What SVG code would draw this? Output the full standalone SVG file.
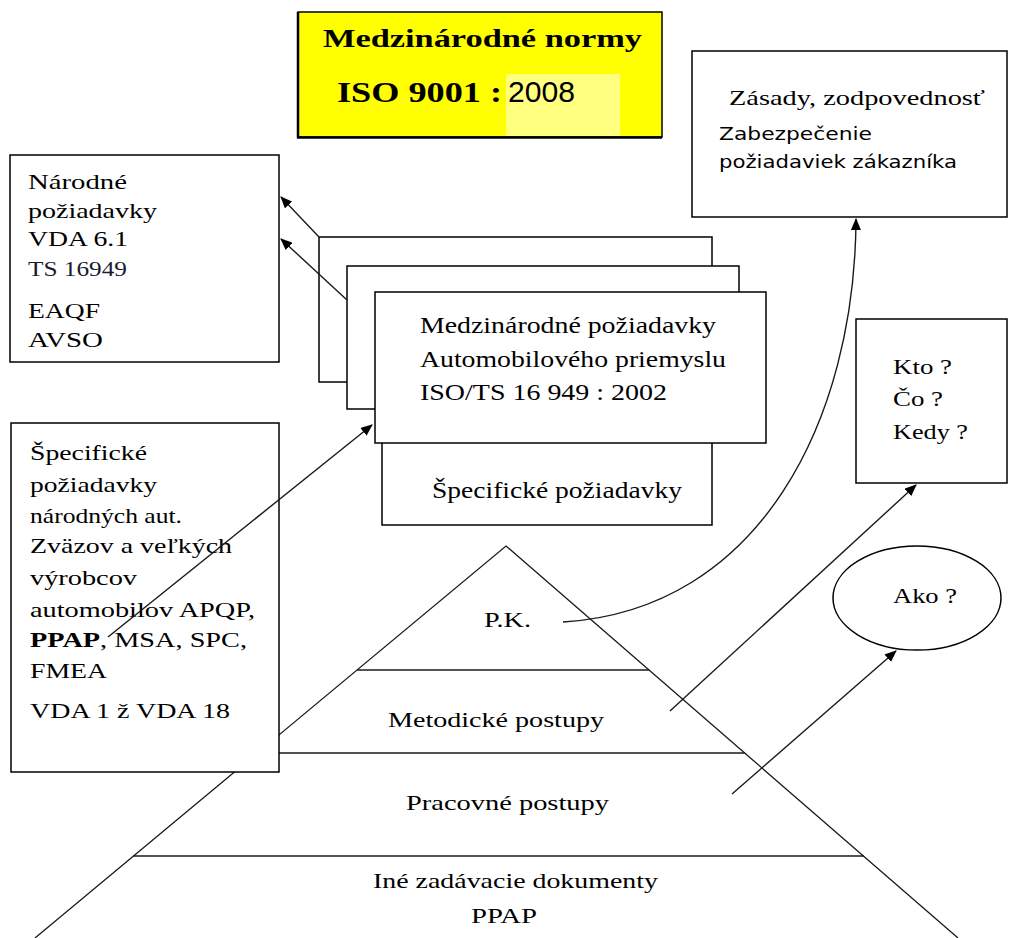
<svg xmlns="http://www.w3.org/2000/svg" width="1011" height="938" viewBox="0 0 1011 938">
<defs>
<style>
.box{fill:#fff;stroke:#000;stroke-width:1.5}
.ln{fill:none;stroke:#1a1a1a;stroke-width:1.3}
.t{font-family:"Liberation Serif","Times New Roman",serif;font-size:21px;fill:#000}
.tb{font-family:"Liberation Serif","Times New Roman",serif;font-size:24px;fill:#000}
.s{font-family:"DejaVu Sans","Liberation Sans",sans-serif;font-size:18px;fill:#000}
.con{fill:none;stroke:#1a1a1a;stroke-width:1.4;marker-end:url(#ah)}
</style>
<marker id="ah" viewBox="0 0 12 10" refX="11" refY="5" markerWidth="12" markerHeight="10" markerUnits="userSpaceOnUse" orient="auto">
<path d="M0,0 L12,5 L0,10 z" fill="#000"/>
</marker>
</defs>
<rect width="1011" height="938" fill="#fff"/>

<g id="pyramid">
<polyline class="ln" points="35,938 506,546 958,938"/>
<line class="ln" x1="357" y1="670" x2="649" y2="670"/>
<line class="ln" x1="260" y1="753" x2="745" y2="753"/>
<line class="ln" x1="133" y1="856" x2="864" y2="856"/>
<text class="t" x="484" y="627" textLength="47" lengthAdjust="spacingAndGlyphs">P.K.</text>
<text class="t" x="388" y="727" textLength="216" lengthAdjust="spacingAndGlyphs">Metodické postupy</text>
<text class="t" x="406" y="810" textLength="203" lengthAdjust="spacingAndGlyphs">Pracovné postupy</text>
<text class="t" x="373" y="888" textLength="285" lengthAdjust="spacingAndGlyphs">Iné zadávacie dokumenty</text>
<text class="t" x="471" y="923" textLength="66" lengthAdjust="spacingAndGlyphs">PPAP</text>
</g>

<g id="iso9001">
<rect x="298" y="12" width="364" height="125" fill="#ffff00" stroke="#000" stroke-width="1.5"/>
<line x1="297" y1="137.5" x2="662" y2="137.5" stroke="#000" stroke-width="2.5"/>
<line x1="298" y1="12" x2="298" y2="138" stroke="#000" stroke-width="2.5"/>
<rect x="506" y="74" width="114" height="62" fill="#ffff80"/>
<text x="323" y="47" font-family="'Liberation Serif','Times New Roman',serif" font-weight="bold" font-size="25" textLength="319" lengthAdjust="spacingAndGlyphs">Medzinárodné normy</text>
<text x="337" y="102" font-family="'Liberation Serif','Times New Roman',serif" font-weight="bold" font-size="30" textLength="165" lengthAdjust="spacingAndGlyphs">ISO 9001 :</text>
<text x="508" y="102" font-family="'Liberation Sans',Arial,sans-serif" font-size="30" textLength="67" lengthAdjust="spacingAndGlyphs">2008</text>
</g>

<g id="narodne">
<rect class="box" x="10" y="155" width="269" height="207"/>
<text class="t" x="28" y="189" textLength="99" lengthAdjust="spacingAndGlyphs">Národné</text>
<text class="t" x="28" y="218" textLength="129" lengthAdjust="spacingAndGlyphs">požiadavky</text>
<text class="t" x="28" y="246" textLength="100" lengthAdjust="spacingAndGlyphs">VDA 6.1</text>
<text x="28" y="276" font-family="'Liberation Serif','Times New Roman',serif" font-size="20" fill="#1a1a30" textLength="99" lengthAdjust="spacingAndGlyphs">TS 16949</text>
<text class="t" x="28" y="318" textLength="72" lengthAdjust="spacingAndGlyphs">EAQF</text>
<text class="t" x="28" y="347" textLength="75" lengthAdjust="spacingAndGlyphs">AVSO</text>
</g>

<g id="specificke-left">
<rect class="box" x="11" y="423" width="268" height="349"/>
<text class="t" x="30" y="460" textLength="117" lengthAdjust="spacingAndGlyphs">Špecifické</text>
<text class="t" x="30" y="492" textLength="127" lengthAdjust="spacingAndGlyphs">požiadavky</text>
<text class="t" x="30" y="523" textLength="152" lengthAdjust="spacingAndGlyphs">národných aut.</text>
<text class="t" x="30" y="553" textLength="202" lengthAdjust="spacingAndGlyphs">Zväzov a veľkých</text>
<text class="t" x="30" y="585" textLength="107" lengthAdjust="spacingAndGlyphs">výrobcov</text>
<text class="t" x="30" y="617" textLength="225" lengthAdjust="spacingAndGlyphs">automobilov APQP,</text>
<text class="t" x="30" y="647" textLength="217" lengthAdjust="spacingAndGlyphs"><tspan font-weight="bold">PPAP</tspan>, MSA, SPC,</text>
<text class="t" x="30" y="678" textLength="77" lengthAdjust="spacingAndGlyphs">FMEA</text>
<text class="t" x="30" y="718" textLength="200" lengthAdjust="spacingAndGlyphs">VDA 1 ž VDA 18</text>
</g>

<g id="stack">
<rect class="box" x="319" y="237" width="393" height="145"/>
<rect class="box" x="347" y="266" width="392" height="143"/>
<rect class="box" x="382" y="400" width="330" height="125"/>
<text class="tb" x="432" y="498" textLength="250" lengthAdjust="spacingAndGlyphs">Špecifické požiadavky</text>
<rect class="box" x="375" y="292" width="391" height="151"/>
<text class="tb" x="420" y="333" textLength="296" lengthAdjust="spacingAndGlyphs">Medzinárodné požiadavky</text>
<text class="tb" x="420" y="367" textLength="306" lengthAdjust="spacingAndGlyphs">Automobilového priemyslu</text>
<text class="tb" x="420" y="400" textLength="247" lengthAdjust="spacingAndGlyphs">ISO/TS 16 949 : 2002</text>
</g>

<g id="zasady">
<rect class="box" x="692" y="51" width="315" height="166"/>
<text class="t" x="729" y="105" font-size="22" textLength="256" lengthAdjust="spacingAndGlyphs">Zásady, zodpovednosť</text>
<text class="s" x="719" y="140" textLength="153" lengthAdjust="spacingAndGlyphs">Zabezpečenie</text>
<text class="s" x="719" y="168" textLength="238" lengthAdjust="spacingAndGlyphs">požiadaviek zákazníka</text>
</g>

<g id="kto">
<rect class="box" x="856" y="319" width="151" height="164"/>
<text class="t" x="893" y="374" textLength="59" lengthAdjust="spacingAndGlyphs">Kto ?</text>
<text class="t" x="893" y="406" textLength="50" lengthAdjust="spacingAndGlyphs">Čo ?</text>
<text class="t" x="893" y="439" textLength="75" lengthAdjust="spacingAndGlyphs">Kedy ?</text>
</g>

<g id="ako">
<ellipse class="box" cx="917" cy="598" rx="84" ry="52"/>
<text class="t" x="893" y="603" textLength="64" lengthAdjust="spacingAndGlyphs">Ako ?</text>
</g>

<g id="connectors">
<line class="con" x1="319" y1="237" x2="281" y2="197"/>
<line class="con" x1="347" y1="300" x2="281" y2="239"/>
<line class="con" x1="108" y1="637" x2="372" y2="425"/>
<path class="con" d="M563,622 C760,610 855,420 856,219"/>
<line class="con" x1="670" y1="711" x2="916" y2="485"/>
<line class="con" x1="732" y1="794" x2="896" y2="651"/>
</g>
</svg>
